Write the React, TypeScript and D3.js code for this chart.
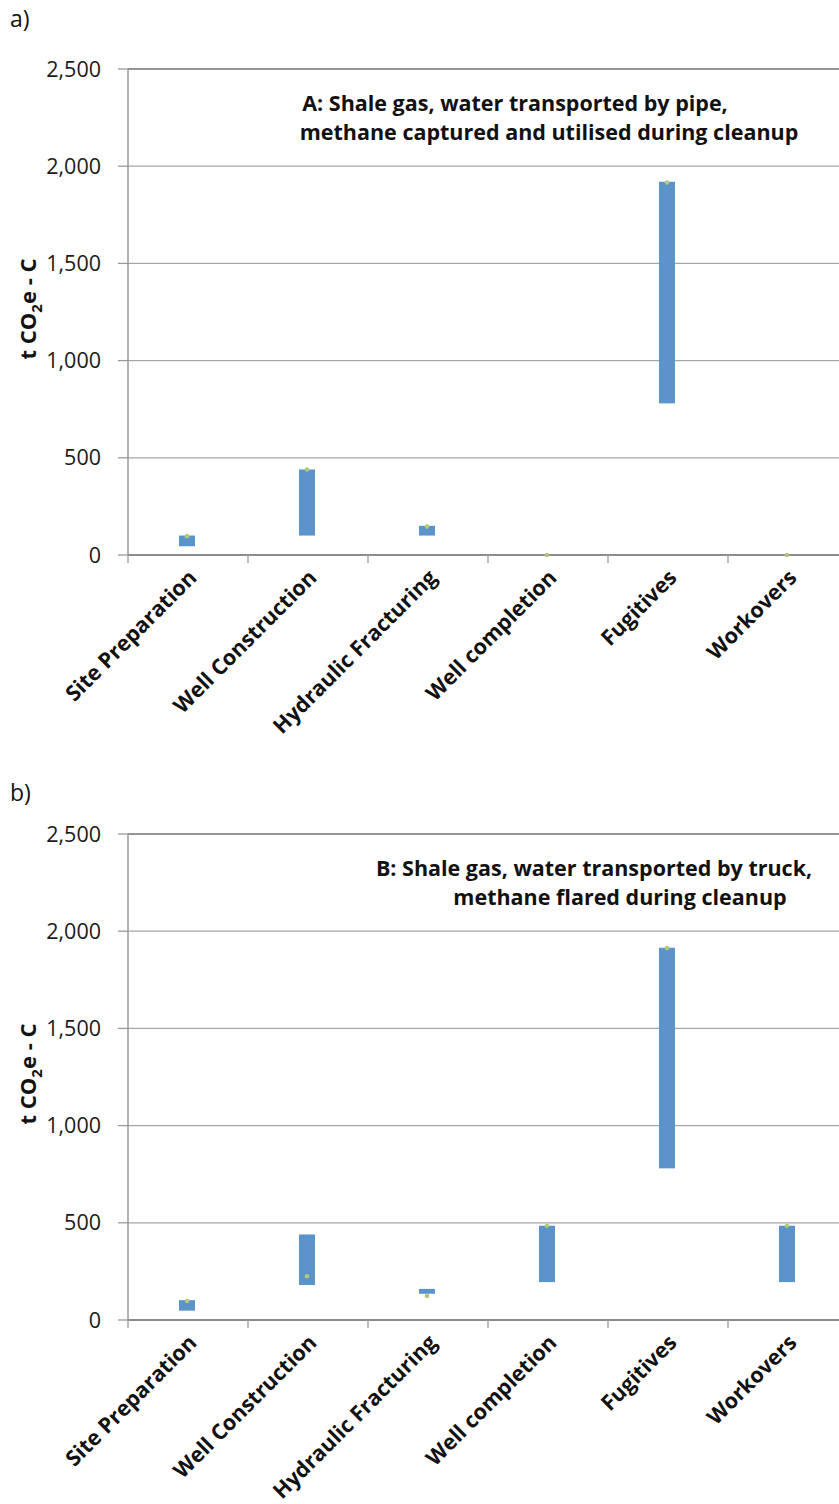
import React, { useEffect, useRef } from "react"
import * as d3 from "d3"

const categories = ["Site Preparation", "Well Construction", "Hydraulic Fracturing", "Well completion", "Fugitives", "Workovers"]
const yTicks = [0, 500, 1000, 1500, 2000, 2500]

// scenario A: pipe transport, methane captured
const lowA = [45, 100, 100, 0, 780, 0]
const highA = [100, 440, 150, 0, 1920, 0]
const markA = [97, 440, 146, 0, 1916, 0]

// scenario B: truck transport, methane flared
const lowB = [48, 180, 135, 195, 780, 195]
const highB = [102, 440, 160, 485, 1915, 485]
const markB = [98, 225, 124, 485, 1913, 485]

const titleA = ["A: Shale gas, water transported by pipe,", "methane captured and utilised during cleanup"]
const titleB = ["B: Shale gas, water transported by truck,", "methane flared during cleanup"]

const FONT = "'Open Sans', 'Noto Sans', sans-serif"

interface PanelProps {
    label: string
    labelY: number
    title: string[]
    titleX: number[]
    low: number[]
    high: number[]
    mark: number[]
    top: number
}

function Panel(props: PanelProps) {
    const { label, labelY, title, titleX, low, high, mark, top } = props
    const ref = useRef<SVGGElement>(null)

    const left = 128
    const plotTop = top + 69
    const plotBottom = top + 555
    const right = 848

    useEffect(() => {
        if (!ref.current) return
        const g = d3.select(ref.current)
        g.selectAll("*").remove()

        const x = d3.scaleBand<string>().domain(categories).range([left, right])
        const y = d3.scaleLinear().domain([0, 2500]).range([plotBottom, plotTop])

        // gridlines
        g.append("g")
            .selectAll("line")
            .data(yTicks.filter(t => t > 0))
            .join("line")
            .attr("x1", left).attr("x2", right)
            .attr("y1", d => y(d)).attr("y2", d => y(d))
            .attr("stroke", d => d === 2500 ? "#707070" : "#a6a6a6")
            .attr("stroke-width", 1.3)

        // y axis
        const yAxis = g.append("g")
        yAxis.append("line")
            .attr("x1", left).attr("x2", left)
            .attr("y1", plotTop).attr("y2", plotBottom)
            .attr("stroke", "#9a9a9a").attr("stroke-width", 1.5)
        yAxis.selectAll("line.tick")
            .data(yTicks)
            .join("line")
            .attr("class", "tick")
            .attr("x1", left - 10).attr("x2", left)
            .attr("y1", d => y(d)).attr("y2", d => y(d))
            .attr("stroke", "#9a9a9a").attr("stroke-width", 1.3)
        yAxis.selectAll("text")
            .data(yTicks)
            .join("text")
            .attr("x", 101)
            .attr("y", d => y(d))
            .attr("dy", "0.35em")
            .attr("text-anchor", "end")
            .attr("font-size", 21.5)
            .attr("fill", "#1a1a1a")
            .text(d => d3.format(",")(d))

        // x axis
        const xAxis = g.append("g")
        xAxis.append("line")
            .attr("x1", left).attr("x2", right)
            .attr("y1", plotBottom).attr("y2", plotBottom)
            .attr("stroke", "#8c8c8c").attr("stroke-width", 1.8)
        xAxis.selectAll("line.tick")
            .data(categories)
            .join("line")
            .attr("class", "tick")
            .attr("x1", d => x(d)!).attr("x2", d => x(d)!)
            .attr("y1", plotBottom).attr("y2", plotBottom + 8)
            .attr("stroke", "#9a9a9a").attr("stroke-width", 1.3)
        xAxis.selectAll("text")
            .data(categories)
            .join("text")
            .attr("text-anchor", "end")
            .attr("font-size", 21.5)
            .attr("font-weight", "bold")
            .attr("fill", "#111")
            .attr("transform", d => `translate(${x(d)! + x.bandwidth() / 2 + 10}, ${plotBottom + 24}) rotate(-45)`)
            .text(d => d)

        // floating bars
        const bw = 16
        g.append("g")
            .selectAll("rect")
            .data(categories)
            .join("rect")
            .attr("x", d => x(d)! + x.bandwidth() / 2 - bw / 2 - 1)
            .attr("width", bw)
            .attr("y", (d, i) => y(high[i]))
            .attr("height", (d, i) => y(low[i]) - y(high[i]))
            .attr("fill", "#5b93cb")

        // markers
        g.append("g")
            .selectAll("circle")
            .data(categories)
            .join("circle")
            .attr("cx", d => x(d)! + x.bandwidth() / 2 - 1)
            .attr("cy", (d, i) => y(mark[i]))
            .attr("r", 2.3)
            .attr("fill", "#b4c67a")
    }, [low, high, mark, top])

    return (
        <g fontFamily={FONT}>
            <text x={10} y={labelY} fontSize={23} fill="#111">{label}</text>
            <text transform={`translate(36, ${top + 309}) rotate(-90)`} textAnchor="middle" fontSize={22} fontWeight="bold" fill="#111">
                t CO<tspan fontSize={15} dy={6}>2</tspan><tspan dy={-6}>e - C</tspan>
            </text>
            {title.map((t, i) => (
                <text key={i} x={titleX[i]} y={top + 111 + i * 29} textAnchor="middle" fontSize={21.5} fontWeight="bold" fill="#111">{t}</text>
            ))}
            <g ref={ref} />
        </g>
    )
}

export default function App() {
    return (
        <svg width={839} height={1504} style={{ position: "absolute", left: 0, top: 0, background: "#fff" }}>
            <rect width={839} height={1504} fill="#fff" />
            <Panel label="a)" labelY={27} title={titleA} titleX={[515, 549]} low={lowA} high={highA} mark={markA} top={0} />
            <Panel label="b)" labelY={801} title={titleB} titleX={[594, 620]} low={lowB} high={highB} mark={markB} top={765} />
        </svg>
    )
}
